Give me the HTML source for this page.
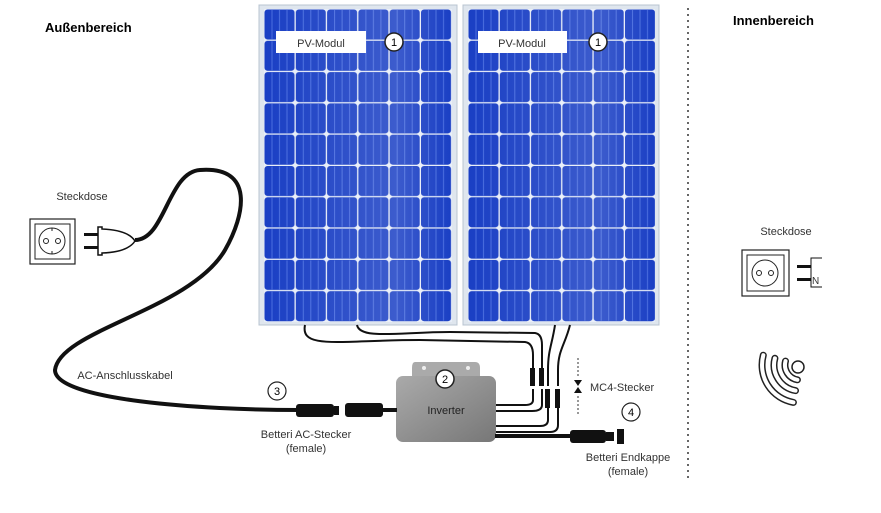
<!DOCTYPE html>
<html><head><meta charset="utf-8"><style>
body{margin:0;background:#fff;}
svg{display:block;font-family:"Liberation Sans",sans-serif;}
</style></head><body>
<svg width="881" height="513" viewBox="0 0 881 513" xmlns="http://www.w3.org/2000/svg">
<defs>
<pattern id="cells" x="264" y="9" width="31.3" height="31.3" patternUnits="userSpaceOnUse">
<rect x="0.5" y="0.5" width="30" height="30" rx="3" fill="#1a3fc4"/>
<line x1="8" y1="1" x2="8" y2="30" stroke="#4a6ee0" stroke-width="1"/>
<line x1="15.5" y1="1" x2="15.5" y2="30" stroke="#4a6ee0" stroke-width="1"/>
<line x1="23" y1="1" x2="23" y2="30" stroke="#4a6ee0" stroke-width="1"/>
</pattern>
<pattern id="cells2" x="468" y="9" width="31.3" height="31.3" patternUnits="userSpaceOnUse">
<rect x="0.5" y="0.5" width="30" height="30" rx="3" fill="#1a3fc4"/>
<line x1="8" y1="1" x2="8" y2="30" stroke="#4a6ee0" stroke-width="1"/>
<line x1="15.5" y1="1" x2="15.5" y2="30" stroke="#4a6ee0" stroke-width="1"/>
<line x1="23" y1="1" x2="23" y2="30" stroke="#4a6ee0" stroke-width="1"/>
</pattern>
<linearGradient id="inv" x1="0" y1="0" x2="1" y2="1"><stop offset="0" stop-color="#aaa"/><stop offset="1" stop-color="#777"/></linearGradient>
<linearGradient id="shine" x1="0" y1="0" x2="1" y2="0"><stop offset="0" stop-color="#fff" stop-opacity="0"/><stop offset="0.7" stop-color="#fff" stop-opacity="0.15"/><stop offset="1" stop-color="#fff" stop-opacity="0"/></linearGradient>
</defs>

<text x="45" y="32" font-size="13" font-weight="bold">Außenbereich</text>
<text x="733" y="25" font-size="13" font-weight="bold">Innenbereich</text>
<line x1="688" y1="8" x2="688" y2="480" stroke="#333" stroke-width="1.5" stroke-dasharray="2,4"/>

<!-- panels -->
<rect x="259" y="5" width="198" height="320" fill="#dfe6ee" stroke="#b8c4d0"/>
<rect x="264" y="9" width="188" height="313" fill="#e8eef8"/>
<rect x="264" y="9" width="188" height="313" fill="url(#cells)"/>
<rect x="264" y="9" width="188" height="313" fill="url(#shine)"/>
<rect x="463" y="5" width="196" height="320" fill="#dfe6ee" stroke="#b8c4d0"/>
<rect x="468" y="9" width="187" height="313" fill="#e8eef8"/>
<rect x="468" y="9" width="187" height="313" fill="url(#cells2)"/>
<rect x="468" y="9" width="187" height="313" fill="url(#shine)"/>

<rect x="276" y="31" width="90" height="22" fill="#fff"/>
<text x="321" y="47" font-size="11" text-anchor="middle" fill="#333">PV-Modul</text>
<circle cx="394" cy="42" r="9" fill="#fff" stroke="#222" stroke-width="1.5"/>
<text x="394" y="46" font-size="11" text-anchor="middle">1</text>
<rect x="478" y="31" width="89" height="22" fill="#fff"/>
<text x="522" y="47" font-size="11" text-anchor="middle" fill="#333">PV-Modul</text>
<circle cx="598" cy="42" r="9" fill="#fff" stroke="#222" stroke-width="1.5"/>
<text x="598" y="46" font-size="11" text-anchor="middle">1</text>

<!-- DC cables -->
<g fill="none" stroke="#111" stroke-width="2">
<path d="M305,325 C300,350 340,340 420,340 L525,342 Q533,343 533,355 L533,400 Q533,405 525,405 L495,405"/>
<path d="M357,325 C360,340 400,332 450,332 L535,333 Q542,334 542,345 L542,405 Q542,411 532,411 L495,411"/>
<path d="M555,325 C552,345 548,350 548,370 L548,420 Q548,426 540,426 L495,426"/>
<path d="M570,325 C565,345 558,350 558,370 L558,425 Q558,432 550,432 L495,432"/>
</g>
<g fill="#111">
<rect x="530" y="368" width="5" height="20"/><rect x="539" y="368" width="5" height="20"/>
<rect x="545" y="388" width="5" height="20"/><rect x="555" y="388" width="5" height="20"/>
</g>
<rect x="525" y="386" width="40" height="3" fill="#fff"/>
<line x1="578" y1="358" x2="578" y2="378" stroke="#333" stroke-dasharray="2,2"/>
<line x1="578" y1="396" x2="578" y2="414" stroke="#333" stroke-dasharray="2,2"/>
<path d="M574,380 L582,380 L578,386 Z M574,393 L582,393 L578,387 Z" fill="#111"/>
<text x="590" y="391" font-size="11" fill="#333">MC4-Stecker</text>

<!-- AC cable -->
<path d="M135,240 C165,240 168,172 200,170 C255,166 245,215 225,250 C190,310 60,330 55,370 C55,400 200,410 300,410" fill="none" stroke="#111" stroke-width="4"/>

<!-- inverter -->
<path d="M415,362 L475,362 Q480,362 480,368 L480,378 L412,378 L412,368 Q412,362 415,362 Z" fill="#aaa"/>
<circle cx="424" cy="368" r="2" fill="#eee"/><circle cx="468" cy="368" r="2" fill="#eee"/>
<rect x="396" y="376" width="100" height="66" rx="7" fill="url(#inv)"/>
<circle cx="445" cy="379" r="9" fill="#fff" stroke="#222" stroke-width="1.5"/>
<text x="445" y="383" font-size="11" text-anchor="middle">2</text>
<text x="446" y="414" font-size="11" text-anchor="middle" fill="#222">Inverter</text>

<!-- AC connectors -->
<rect x="296" y="404" width="38" height="13" rx="3" fill="#111"/>
<rect x="334" y="406" width="5" height="9" fill="#111"/>
<rect x="345" y="403" width="38" height="14" rx="3" fill="#111"/>
<rect x="383" y="408" width="14" height="4" fill="#111"/>
<circle cx="277" cy="391" r="9" fill="#fff" stroke="#222" stroke-width="1.2"/>
<text x="277" y="395" font-size="11" text-anchor="middle">3</text>
<text x="306" y="438" font-size="11" text-anchor="middle" fill="#333">Betteri AC-Stecker</text>
<text x="306" y="452" font-size="11" text-anchor="middle" fill="#333">(female)</text>

<!-- end cap -->
<line x1="495" y1="436" x2="572" y2="436" stroke="#111" stroke-width="4"/>
<rect x="570" y="430" width="36" height="13" rx="3" fill="#111"/>
<rect x="606" y="432" width="8" height="9" fill="#111"/>
<rect x="617" y="429" width="7" height="15" fill="#111"/>
<circle cx="631" cy="412" r="9" fill="#fff" stroke="#222" stroke-width="1.2"/>
<text x="631" y="416" font-size="11" text-anchor="middle">4</text>
<text x="628" y="461" font-size="11" text-anchor="middle" fill="#333">Betteri Endkappe</text>
<text x="628" y="475" font-size="11" text-anchor="middle" fill="#333">(female)</text>

<!-- left socket -->
<text x="82" y="200" font-size="11" text-anchor="middle" fill="#333">Steckdose</text>
<rect x="30" y="219" width="45" height="45" fill="#fff" stroke="#222" stroke-width="1.2"/>
<rect x="35" y="224" width="35" height="35" fill="none" stroke="#222"/>
<circle cx="52" cy="241" r="13" fill="none" stroke="#222"/>
<circle cx="46" cy="241" r="2.5" fill="none" stroke="#222"/>
<circle cx="58" cy="241" r="2.5" fill="none" stroke="#222"/>
<line x1="52" y1="228" x2="52" y2="231" stroke="#222"/><line x1="52" y1="251" x2="52" y2="254" stroke="#222"/>
<rect x="84" y="233" width="14" height="3" fill="#111"/><rect x="84" y="246" width="14" height="3" fill="#111"/>
<path d="M98,227 L102,227 L102,229 Q128,230 135,241 Q128,252 102,253 L102,255 L98,255 Z" fill="#fff" stroke="#111" stroke-width="1.5"/>

<!-- right socket -->
<text x="786" y="235" font-size="11" text-anchor="middle" fill="#333">Steckdose</text>
<rect x="742" y="250" width="47" height="46" fill="#fff" stroke="#222" stroke-width="1.2"/>
<rect x="747" y="255" width="37" height="36" fill="none" stroke="#222"/>
<circle cx="765" cy="273" r="13" fill="none" stroke="#222"/>
<circle cx="759" cy="273" r="2.5" fill="none" stroke="#222"/>
<circle cx="771" cy="273" r="2.5" fill="none" stroke="#222"/>
<rect x="797" y="265" width="14" height="3" fill="#111"/><rect x="797" y="278" width="14" height="3" fill="#111"/>
<path d="M822,258 L811,258 L811,287 L822,287" fill="none" stroke="#111"/>
<text x="812" y="284" font-size="10" fill="#333">N</text>

<!-- wifi -->
<g fill="none" stroke-linecap="round">
<g stroke="#222" stroke-width="7">
<path d="M763.3,355.2 A38,38 0 0 0 793.4,402.4"/>
<path d="M774.9,358.3 A26,26 0 0 0 795.5,390.6"/>
<path d="M785.5,361.1 A15,15 0 0 0 797.4,379.8"/>
</g>
<g stroke="#fff" stroke-width="4">
<path d="M763.3,355.2 A38,38 0 0 0 793.4,402.4"/>
<path d="M774.9,358.3 A26,26 0 0 0 795.5,390.6"/>
<path d="M785.5,361.1 A15,15 0 0 0 797.4,379.8"/>
</g>
<circle cx="798" cy="367" r="6" stroke="#222" stroke-width="1.5"/>
</g>

<text x="125" y="379" font-size="11" text-anchor="middle" fill="#333">AC-Anschlusskabel</text>
</svg>
</body></html>
